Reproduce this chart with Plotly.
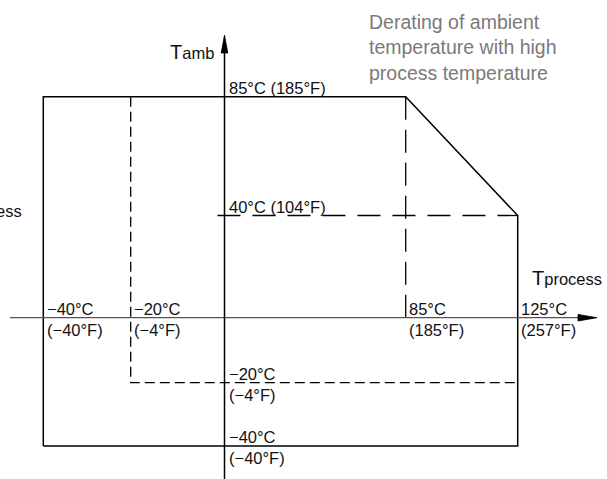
import numpy as np
import plotly.graph_objects as go

# ---- schematic scale: temperature (°C) -> drawing position ----
X_TEMPS = [-40, -20, 0, 85, 125]
X_POS = [43.3, 130.7, 224.5, 405.7, 517.7]
Y_TEMPS = [-40, -20, 0, 40, 85]
Y_POS = [446.0, 382.7, 317.7, 215.5, 96.8]

# ---- data ----
# solid envelope: (T_process, T_amb)
envelope_tp = [-40, -40, 85, 125, 125, -40]
envelope_ta = [-40, 85, 85, 40, -40, -40]
# dashed range limit at -20 °C
range20_tp = [-20, -20, 125]
range20_ta = [85, -20, -20]
# derating guide lines
guide40_tp = [-1.5, 125]
guide40_ta = [40, 40]
guide85_tp = [85, 85]
guide85_ta = [85, -1.6]

# tick labels
x_labels_c = ["−40°C", "−20°C", "85°C", "125°C"]
x_labels_f = ["(−40°F)", "(−4°F)", "(185°F)", "(257°F)"]
x_label_t = [-40, -20, 85, 125]
y_labels_c = ["−20°C", "−40°C"]
y_labels_f = ["(−4°F)", "(−40°F)"]
y_label_t = [-20, -40]
y_labels_upper = ["85°C (185°F)", "40°C (104°F)"]
y_label_upper_t = [85, 40]

note_text = "Derating of ambient<br>temperature with high<br>process temperature"

W, H = 607, 479


def X(t):
    return np.interp(t, X_TEMPS, X_POS)


def Y(t):
    return np.interp(t, Y_TEMPS, Y_POS)


LBL_FONT = dict(family="Liberation Sans, Arial", size=16.5, color="#111")

fig = go.Figure()

fig.add_trace(go.Scatter(x=X(envelope_tp), y=Y(envelope_ta), mode="lines",
                         line=dict(color="black", width=1.5), hoverinfo="skip"))
fig.add_trace(go.Scatter(x=X(range20_tp), y=Y(range20_ta), mode="lines",
                         line=dict(color="black", width=1.3, dash="10px,5px"), hoverinfo="skip"))
fig.add_trace(go.Scatter(x=X(guide40_tp), y=Y(guide40_ta), mode="lines",
                         line=dict(color="black", width=1.3, dash="23px,12px"), hoverinfo="skip"))
fig.add_trace(go.Scatter(x=X(guide85_tp), y=Y(guide85_ta), mode="lines",
                         line=dict(color="black", width=1.3, dash="23px,10px"), hoverinfo="skip"))

x0 = float(X(0))
y0 = float(Y(0))
shapes = [
    # horizontal axis (T process)
    dict(type="line", x0=10, x1=582, y0=y0, y1=y0, line=dict(color="#555", width=1.3)),
    dict(type="path", path=f"M578,{y0-3.3} L597,{y0} L578,{y0+3.3} Z",
         fillcolor="black", line=dict(color="black", width=0.8)),
    # vertical axis (T amb)
    dict(type="line", x0=x0, x1=x0, y0=50, y1=H, line=dict(color="black", width=1.5)),
    dict(type="path", path=f"M{x0-3.3},53 L{x0},35 L{x0+3.3},53 Z",
         fillcolor="black", line=dict(color="black", width=0.8)),
]
for s in shapes:
    s.update(xref="x", yref="y", layer="above")

ann = []
for t, c, f in zip(x_label_t, x_labels_c, x_labels_f):
    ann.append(dict(x=X(t), y=y0, text=c, xanchor="left", yanchor="bottom",
                    xshift=1.5, yshift=-2, showarrow=False, font=LBL_FONT))
    ann.append(dict(x=X(t), y=y0, text=f, xanchor="left", yanchor="top",
                    xshift=1.5, yshift=-1, showarrow=False, font=LBL_FONT))
for t, c, f in zip(y_label_t, y_labels_c, y_labels_f):
    ann.append(dict(x=x0, y=Y(t), text=c, xanchor="left", yanchor="bottom",
                    xshift=2.5, yshift=-2, showarrow=False, font=LBL_FONT))
    ann.append(dict(x=x0, y=Y(t), text=f, xanchor="left", yanchor="top",
                    xshift=2.5, yshift=-1, showarrow=False, font=LBL_FONT))
for t, c in zip(y_label_upper_t, y_labels_upper):
    ann.append(dict(x=x0, y=Y(t), text=c, xanchor="left", yanchor="bottom",
                    xshift=2.5, yshift=-2, showarrow=False, font=LBL_FONT))

# axis titles
ann.append(dict(x=x0, y=57, text="<span style='font-size:20px'>T</span>amb",
                xanchor="right", yanchor="bottom", xshift=-9, yshift=-8,
                showarrow=False, font=LBL_FONT))
ann.append(dict(x=530, y=y0, text="<span style='font-size:20px'>T</span>process",
                xanchor="left", yanchor="bottom", yshift=27,
                showarrow=False, font=LBL_FONT))

# note
ann.append(dict(x=367, y=9, text=note_text, xanchor="left", yanchor="top", align="left",
                showarrow=False,
                font=dict(family="Liberation Sans, Arial", size=19.5, color="#7a7a7a")))
# clipped note at left edge
ann.append(dict(x=24, y=222, text="process", xanchor="right", yanchor="bottom",
                showarrow=False, font=LBL_FONT))

fig.update_layout(
    width=W, height=H,
    margin=dict(l=0, r=0, t=0, b=0),
    paper_bgcolor="white", plot_bgcolor="white",
    showlegend=False,
    xaxis=dict(range=[0, W], visible=False, fixedrange=True),
    yaxis=dict(range=[H, 0], visible=False, fixedrange=True),
    shapes=shapes,
    annotations=ann,
)

fig.write_html("out.html", config={"displayModeBar": False},
               post_script="document.body.style.margin='0px';document.body.style.overflow='hidden';")
